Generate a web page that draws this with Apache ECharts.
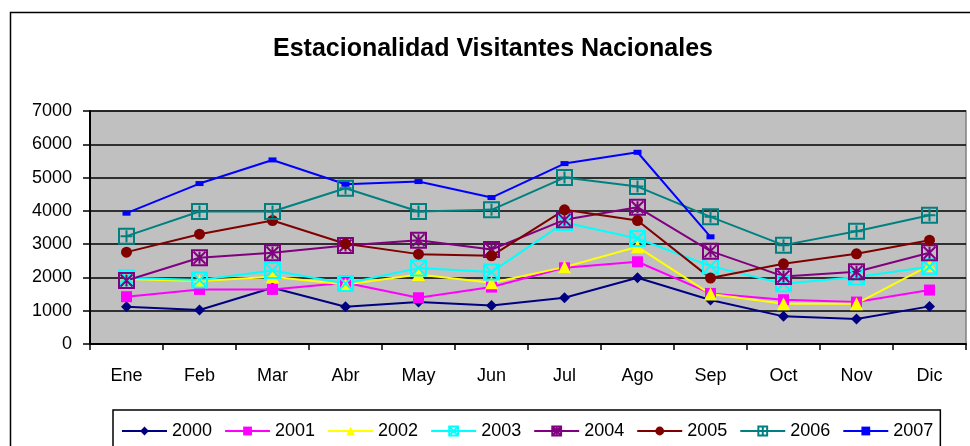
<!DOCTYPE html>
<html>
<head>
<meta charset="utf-8">
<script src="https://cdn.jsdelivr.net/npm/echarts@6/dist/echarts.min.js"></script>
<style>
  html, body { margin: 0; padding: 0; background: #fff; }
  #chart { width: 970px; height: 446px; }
</style>
</head>
<body>
<div id="chart"></div>
<script>
// data
const months = ['Ene', 'Feb', 'Mar', 'Abr', 'May', 'Jun', 'Jul', 'Ago', 'Sep', 'Oct', 'Nov', 'Dic'];
const yearNames = ['2000', '2001', '2002', '2003', '2004', '2005', '2006', '2007'];
const v2000 = [1120, 1020, 1690, 1120, 1260, 1160, 1390, 1990, 1320, 830, 750, 1130];
const v2001 = [1420, 1640, 1640, 1840, 1390, 1710, 2290, 2470, 1520, 1330, 1260, 1620];
const v2002 = [1950, 1890, 2020, 1790, 2090, 1840, 2310, 2920, 1500, 1210, 1210, 2360];
const v2003 = [1990, 1920, 2210, 1820, 2280, 2160, 3650, 3170, 2340, 1810, 2010, 2320];
const v2004 = [1910, 2590, 2740, 2960, 3120, 2840, 3730, 4110, 2790, 2030, 2170, 2740];
const v2005 = [2760, 3300, 3710, 3010, 2700, 2650, 4030, 3710, 1980, 2410, 2710, 3120];
const v2006 = [3240, 3980, 3980, 4680, 3980, 4030, 5000, 4730, 3820, 2970, 3390, 3870];
const v2007 = [3930, 4820, 5530, 4800, 4880, 4400, 5420, 5760, 3220, null, null, null];
const yTicks = [0, 1000, 2000, 3000, 4000, 5000, 6000, 7000];

const chart = echarts.init(document.getElementById('chart'));

const FONT = '"Liberation Sans", Arial, sans-serif';

// hollow marker paths
const boxX = 'path://M0,0L10,0L10,10L0,10Z M0,0L10,10 M10,0L0,10';
const boxStar = 'path://M0,0L10,0L10,10L0,10Z M1,1L9,9 M9,1L1,9 M5,1L5,9';
const boxPlus = 'path://M0,0L10,0L10,10L0,10Z M5,1L5,9 M1,5L9,5';

function solid(name, data, color, symbol, size) {
  return {
    name: name,
    type: 'line',
    data: data,
    symbol: symbol,
    symbolSize: size,
    showAllSymbol: true,
    itemStyle: { color: color },
    lineStyle: { color: color, width: 2 },
    emphasis: { disabled: true },
    z: 3
  };
}

function hollow(name, data, color, symbol, size) {
  return {
    name: name,
    type: 'line',
    data: data,
    symbol: symbol,
    symbolSize: size,
    showAllSymbol: true,
    itemStyle: { color: 'rgba(0,0,0,0)', borderColor: color, borderWidth: 2 },
    lineStyle: { color: color, width: 2 },
    emphasis: { disabled: true },
    z: 3
  };
}

const option = {
  animation: false,
  backgroundColor: '#ffffff',
  textStyle: { fontFamily: FONT },
  title: {
    text: 'Estacionalidad Visitantes Nacionales',
    left: 273,
    top: 37,
    padding: 0,
    textStyle: { fontSize: 25, fontWeight: 'bold', color: '#000', fontFamily: FONT }
  },
  graphic: [
    {
      type: 'rect',
      shape: { x: 10.5, y: 12.5, width: 990, height: 460 },
      style: { fill: 'none', stroke: '#000', lineWidth: 1.5 },
      silent: true,
      z: -10
    }
  ],
  grid: {
    left: 90,
    right: 4,
    top: 111,
    bottom: 102,
    show: true,
    backgroundColor: '#c0c0c0',
    borderColor: '#808080',
    borderWidth: 1.5
  },
  legend: {
    data: yearNames,
    left: 113,
    top: 410,
    padding: [12, 7, 12, 8],
    itemWidth: 45,
    itemHeight: 11,
    itemGap: 12,
    borderColor: '#000',
    borderWidth: 1.5,
    textStyle: { fontSize: 18, color: '#000', fontFamily: FONT }
  },
  xAxis: {
    type: 'category',
    data: months,
    boundaryGap: true,
    axisLine: { lineStyle: { color: '#000', width: 2 } },
    axisTick: { show: true, length: 6, lineStyle: { color: '#000', width: 1.5 } },
    axisLabel: { fontSize: 18, color: '#000', margin: 23, fontFamily: FONT }
  },
  yAxis: {
    type: 'value',
    min: yTicks[0],
    max: yTicks[yTicks.length - 1],
    interval: 1000,
    axisLine: { show: true, lineStyle: { color: '#000', width: 2 } },
    axisTick: { show: true, length: 7, lineStyle: { color: '#000', width: 1.5 } },
    axisLabel: {
      fontSize: 18, color: '#000', margin: 18, fontFamily: FONT,
      formatter: function (v) { return String(v); }
    },
    splitLine: { show: true, lineStyle: { color: '#000', width: 1.5 } }
  },
  series: [
    solid('2000', v2000, '#000080', 'diamond', 11),
    solid('2001', v2001, '#ff00ff', 'rect', 11),
    solid('2002', v2002, '#ffff00', 'triangle', 13),
    hollow('2003', v2003, '#00ffff', boxX, 15),
    hollow('2004', v2004, '#800080', boxStar, 15),
    solid('2005', v2005, '#800000', 'circle', 11),
    hollow('2006', v2006, '#008080', boxPlus, 15),
    solid('2007', v2007, '#0000ff', 'rect', [8, 5])
  ]
};

chart.setOption(option);
</script>
</body>
</html>
